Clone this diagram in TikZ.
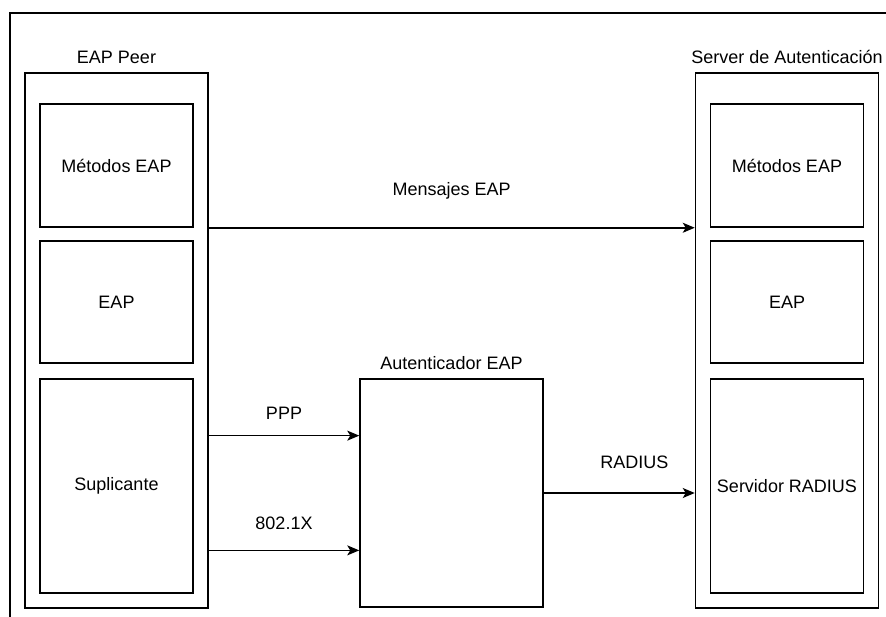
\documentclass[tikz,border=0pt]{standalone}
\usepackage{fontspec}
\setmainfont{Liberation Sans}
\usetikzlibrary{positioning,calc,arrows.meta}

\begin{document}
\begin{tikzpicture}[x=1pt,y=-1pt,line width=1.5pt,
                    font=\fontsize{18}{21}\selectfont,
                    box/.style={draw=black,minimum width=183pt,minimum height=535pt},
                    layer/.style={draw=black,minimum width=153pt},
                    flow/.style={-{Stealth[length=12pt,width=10pt,inset=3pt]}}]
                    \useasboundingbox (0,0) rectangle (886,616);
                    \draw (10,640) |- (900,13);
                    \node[box] (peer) at (116.5,340.5) {};
                    \node[box] (server) at (787,340.5) {};
                    \node[above=4pt of peer] (peerlbl) {EAP Peer};
                    \node[above=4pt of server] (serverlbl) {Server de Autenticación};
                    \node[layer,minimum height=123pt] (metL) at (116.5,165.5) {Métodos EAP};
                    \node[layer,minimum height=122pt,below=12.5pt of metL] (eapL) {EAP};
                    \node[layer,minimum height=214pt,below=14.5pt of eapL] (supL) {Suplicante};
                    \node[layer,minimum height=123pt] (metR) at (787,165.5) {Métodos EAP};
                    \node[layer,minimum height=122pt,below=12.5pt of metR] (eapR) {EAP};
                    \node[layer,minimum height=214pt,below=14.5pt of eapR] (radR) {Servidor RADIUS};
                    \node[draw=black,minimum width=183pt,minimum height=228pt] (auth) at (451.5,493) {};
                    \node[above=4pt of auth] (authlbl) {Autenticador EAP};
                    \coordinate (ppp) at ($(auth.north west)!0.25!(auth.south west)$);
                    \coordinate (dotx) at ($(auth.north west)!0.75!(auth.south west)$);
                    \draw[flow] (metL.south -| peer.east) -- node[above=24pt] {Mensajes EAP} (metL.south -| server.west);
                    \draw[flow] (peer.east |- ppp) -- node[above=12pt] {PPP} (ppp);
                    \draw[flow] (peer.east |- dotx) -- node[above=17pt] {802.1X} (dotx);
                    \draw[flow] (auth.east) -- node[above=20pt,pos=0.6] {RADIUS} (server.west |- auth.east);
                \end{tikzpicture}
\end{document}
